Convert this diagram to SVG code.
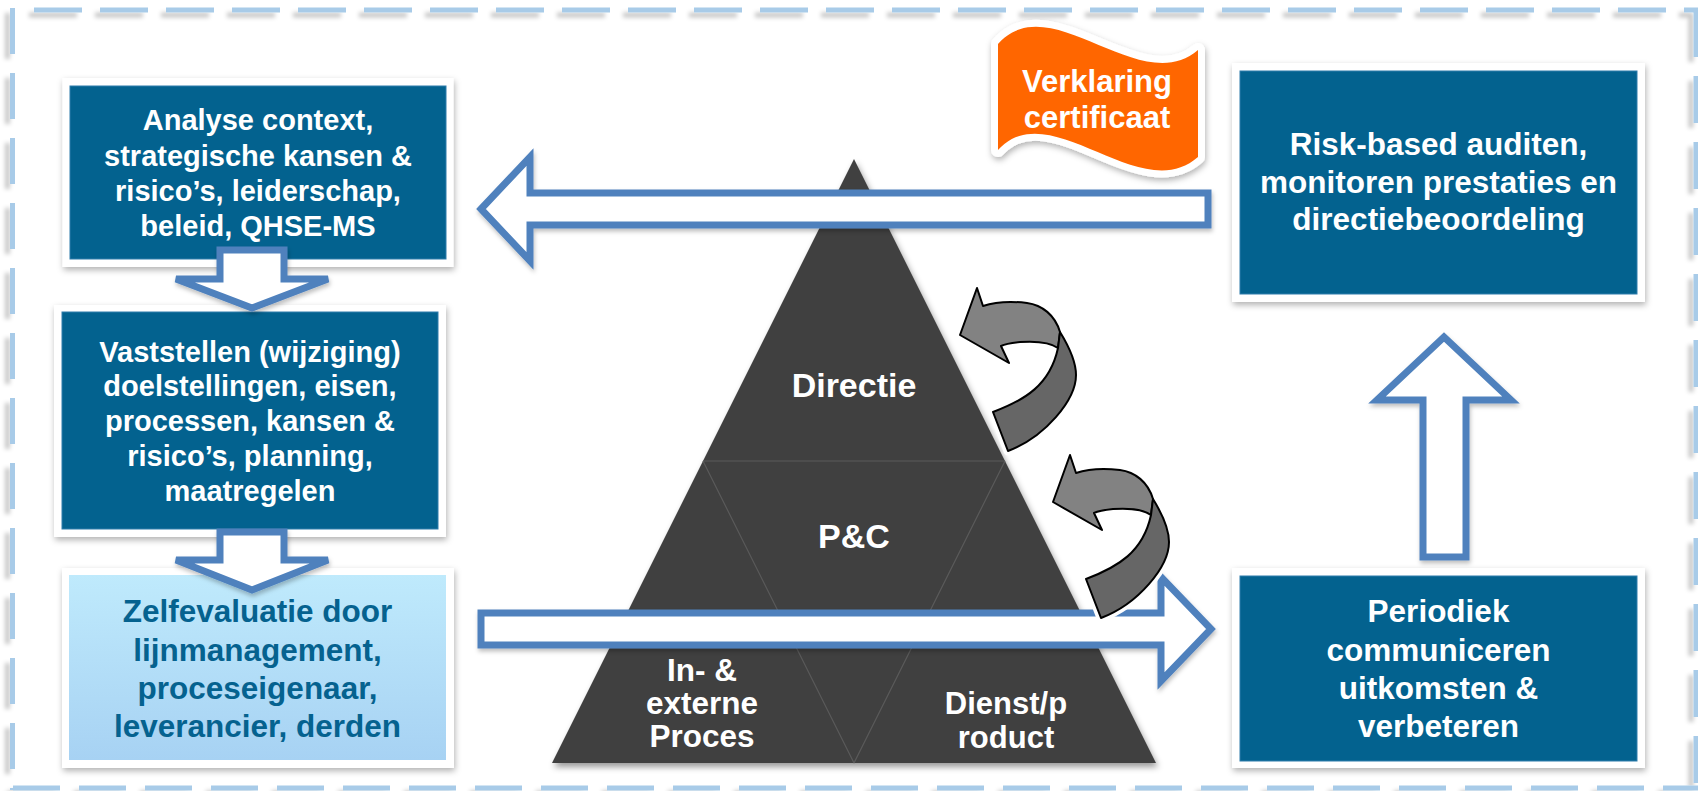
<svg xmlns="http://www.w3.org/2000/svg" width="1698" height="791" viewBox="0 0 1698 791">
<defs>
<style>
.t{font-family:"Liberation Sans",Arial,sans-serif;font-weight:bold;text-anchor:middle}
.wt{fill:#ffffff}
.frm{fill:#ffffff;filter:url(#sh)}
.dk{fill:#03628f;stroke:#2f7cab;stroke-width:1}
.ba{fill:#ffffff;stroke:#4f81bd;stroke-width:7;stroke-linejoin:miter;filter:url(#ash)}
.dash{stroke:#a8cbe8;stroke-width:5;fill:none}
.pl{stroke:#5a5a5a;stroke-width:1.2;fill:none}
.halo{fill:#ffffff;stroke:#ffffff;stroke-width:9;stroke-linejoin:round}
.ca1{fill:#828282;stroke:#000000;stroke-width:2;stroke-linejoin:round}
.ca2{fill:#666666;stroke:#000000;stroke-width:2;stroke-linejoin:round}
</style>
<filter id="sh" x="-10%" y="-10%" width="125%" height="130%"><feDropShadow dx="1" dy="3" stdDeviation="3" flood-color="#000" flood-opacity="0.3"/></filter>
<filter id="ash" x="-10%" y="-10%" width="125%" height="130%"><feDropShadow dx="1" dy="3" stdDeviation="2" flood-color="#000" flood-opacity="0.25"/></filter>
<filter id="fsh" x="-5%" y="-5%" width="110%" height="110%"><feDropShadow dx="-5" dy="5" stdDeviation="2" flood-color="#000" flood-opacity="0.22"/></filter>
<filter id="psh" x="-10%" y="-10%" width="120%" height="120%"><feDropShadow dx="2" dy="4" stdDeviation="3" flood-color="#000" flood-opacity="0.4"/></filter>
<linearGradient id="lb" x1="0" y1="0" x2="0" y2="1"><stop offset="0" stop-color="#bfeafc"/><stop offset="1" stop-color="#a7d2f3"/></linearGradient>
<g id="carr">
<path class="halo" d="M977,288 L983,306 C995,302 1010,301 1027,303 C1042,305 1055,315 1060,332 L1058,348 C1050,342 1035,341 1020,342 C1010,343 1005,344 1001,346 L1009,363 L960,335 Z"/>
<path class="halo" d="M1060,332 C1068,345 1076,360 1076,375 C1076,400 1045,437 1008,451 L993,412 C1025,400 1050,385 1058,348 Z"/>
<path class="ca1" d="M977,288 L983,306 C995,302 1010,301 1027,303 C1042,305 1055,315 1060,332 L1058,348 C1050,342 1035,341 1020,342 C1010,343 1005,344 1001,346 L1009,363 L960,335 Z"/>
<path class="ca2" d="M1060,332 C1068,345 1076,360 1076,375 C1076,400 1045,437 1008,451 L993,412 C1025,400 1050,385 1058,348 Z"/>
</g>
</defs>
<rect x="0" y="0" width="1698" height="791" fill="#ffffff"/>

<g id="frame" filter="url(#fsh)">
<line class="dash" x1="34" y1="10" x2="1698" y2="10" stroke-dasharray="48 18"/>
<line class="dash" x1="12.5" y1="8" x2="12.5" y2="790" stroke-dasharray="46 19"/>
<line class="dash" x1="13" y1="788" x2="1698" y2="788" stroke-dasharray="47 19"/>
<line class="dash" x1="1696" y1="10" x2="1696" y2="790" stroke-dasharray="47 19"/>
</g>

<g id="box-analyse">
<rect class="frm" x="62.5" y="78" width="391" height="189"/>
<rect class="dk" x="70" y="86" width="376" height="173"/>
<text class="t wt" font-size="29"><tspan x="258" y="130">Analyse context,</tspan><tspan x="258" y="166">strategische kansen &amp;</tspan><tspan x="258" y="201">risico’s, leiderschap,</tspan><tspan x="258" y="236">beleid, QHSE-MS</tspan></text>
</g>

<g id="box-vaststellen">
<rect class="frm" x="54" y="305" width="392" height="232"/>
<rect class="dk" x="62" y="312" width="376" height="217"/>
<text class="t wt" font-size="29"><tspan x="250" y="362">Vaststellen (wijziging)</tspan><tspan x="250" y="396">doelstellingen, eisen,</tspan><tspan x="250" y="431">processen, kansen &amp;</tspan><tspan x="250" y="466">risico’s, planning,</tspan><tspan x="250" y="501">maatregelen</tspan></text>
</g>

<g id="box-zelfevaluatie">
<rect class="frm" x="62" y="568" width="392" height="200"/>
<rect x="69" y="575" width="377" height="185" fill="url(#lb)"/>
<text class="t" font-size="31.5" fill="#05628f"><tspan x="257.5" y="622">Zelfevaluatie door</tspan><tspan x="257.5" y="661">lijnmanagement,</tspan><tspan x="257.5" y="699">proceseigenaar,</tspan><tspan x="257.5" y="737">leverancier, derden</tspan></text>
</g>

<g id="box-risk">
<rect class="frm" x="1232" y="63" width="413" height="239"/>
<rect class="dk" x="1240" y="71" width="397" height="223"/>
<text class="t wt" font-size="31.5"><tspan x="1438.5" y="155">Risk-based auditen,</tspan><tspan x="1438.5" y="193">monitoren prestaties en</tspan><tspan x="1438.5" y="230">directiebeoordeling</tspan></text>
</g>

<g id="box-periodiek">
<rect class="frm" x="1232" y="568" width="413" height="200"/>
<rect class="dk" x="1240" y="576" width="397" height="185"/>
<text class="t wt" font-size="31.5"><tspan x="1438.5" y="622">Periodiek</tspan><tspan x="1438.5" y="661">communiceren</tspan><tspan x="1438.5" y="699">uitkomsten &amp;</tspan><tspan x="1438.5" y="737">verbeteren</tspan></text>
</g>

<g id="pyramid">
<polygon points="854,159 1156,763 552,763" fill="#404040" filter="url(#psh)"/>
<path class="pl" d="M703,461 L1005,461 M703,461 L854,763 M1005,461 L854,763"/>
<text class="t wt" font-size="34" x="854" y="397">Directie</text>
<text class="t wt" font-size="34" x="854" y="548">P&amp;C</text>
<text class="t wt" font-size="31.5"><tspan x="702" y="681">In- &amp;</tspan><tspan x="702" y="714">externe</tspan><tspan x="702" y="747">Proces</tspan></text>
<text class="t wt" font-size="31"><tspan x="1006" y="714">Dienst/p</tspan><tspan x="1006" y="748">roduct</tspan></text>
</g>

<g id="flag-verklaring">
<path d="M998,44 C1050,-15 1140,100 1198,50 L1198,157 C1140,208 1050,93 998,150 Z" fill="#ff6600" stroke="#ffffff" stroke-width="14" stroke-linejoin="round" paint-order="stroke" filter="url(#sh)"/>
<text class="t wt" font-size="31"><tspan x="1097" y="92">Verklaring</tspan><tspan x="1097" y="128">certificaat</tspan></text>
</g>

<g id="connectors">
<path class="ba" d="M481,209 L530,157 L530,193 L1208,193 L1208,225 L530,225 L530,261 Z"/>
<path class="ba" d="M481,613 L1161,613 L1161,577 L1211,629 L1161,681 L1161,645 L481,645 Z"/>
<path class="ba" d="M1444,337 L1511,400 L1466,400 L1466,557 L1423,557 L1423,400 L1377,400 Z"/>
<path class="ba" d="M220,250 L284,250 L284,279 L328,279 L252,308 L176,279 L220,279 Z"/>
<path class="ba" d="M220,532 L284,532 L284,560 L328,560 L252,590 L176,560 L220,560 Z"/>
<use href="#carr"/>
<use href="#carr" transform="translate(93,167)"/>
</g>
</svg>
